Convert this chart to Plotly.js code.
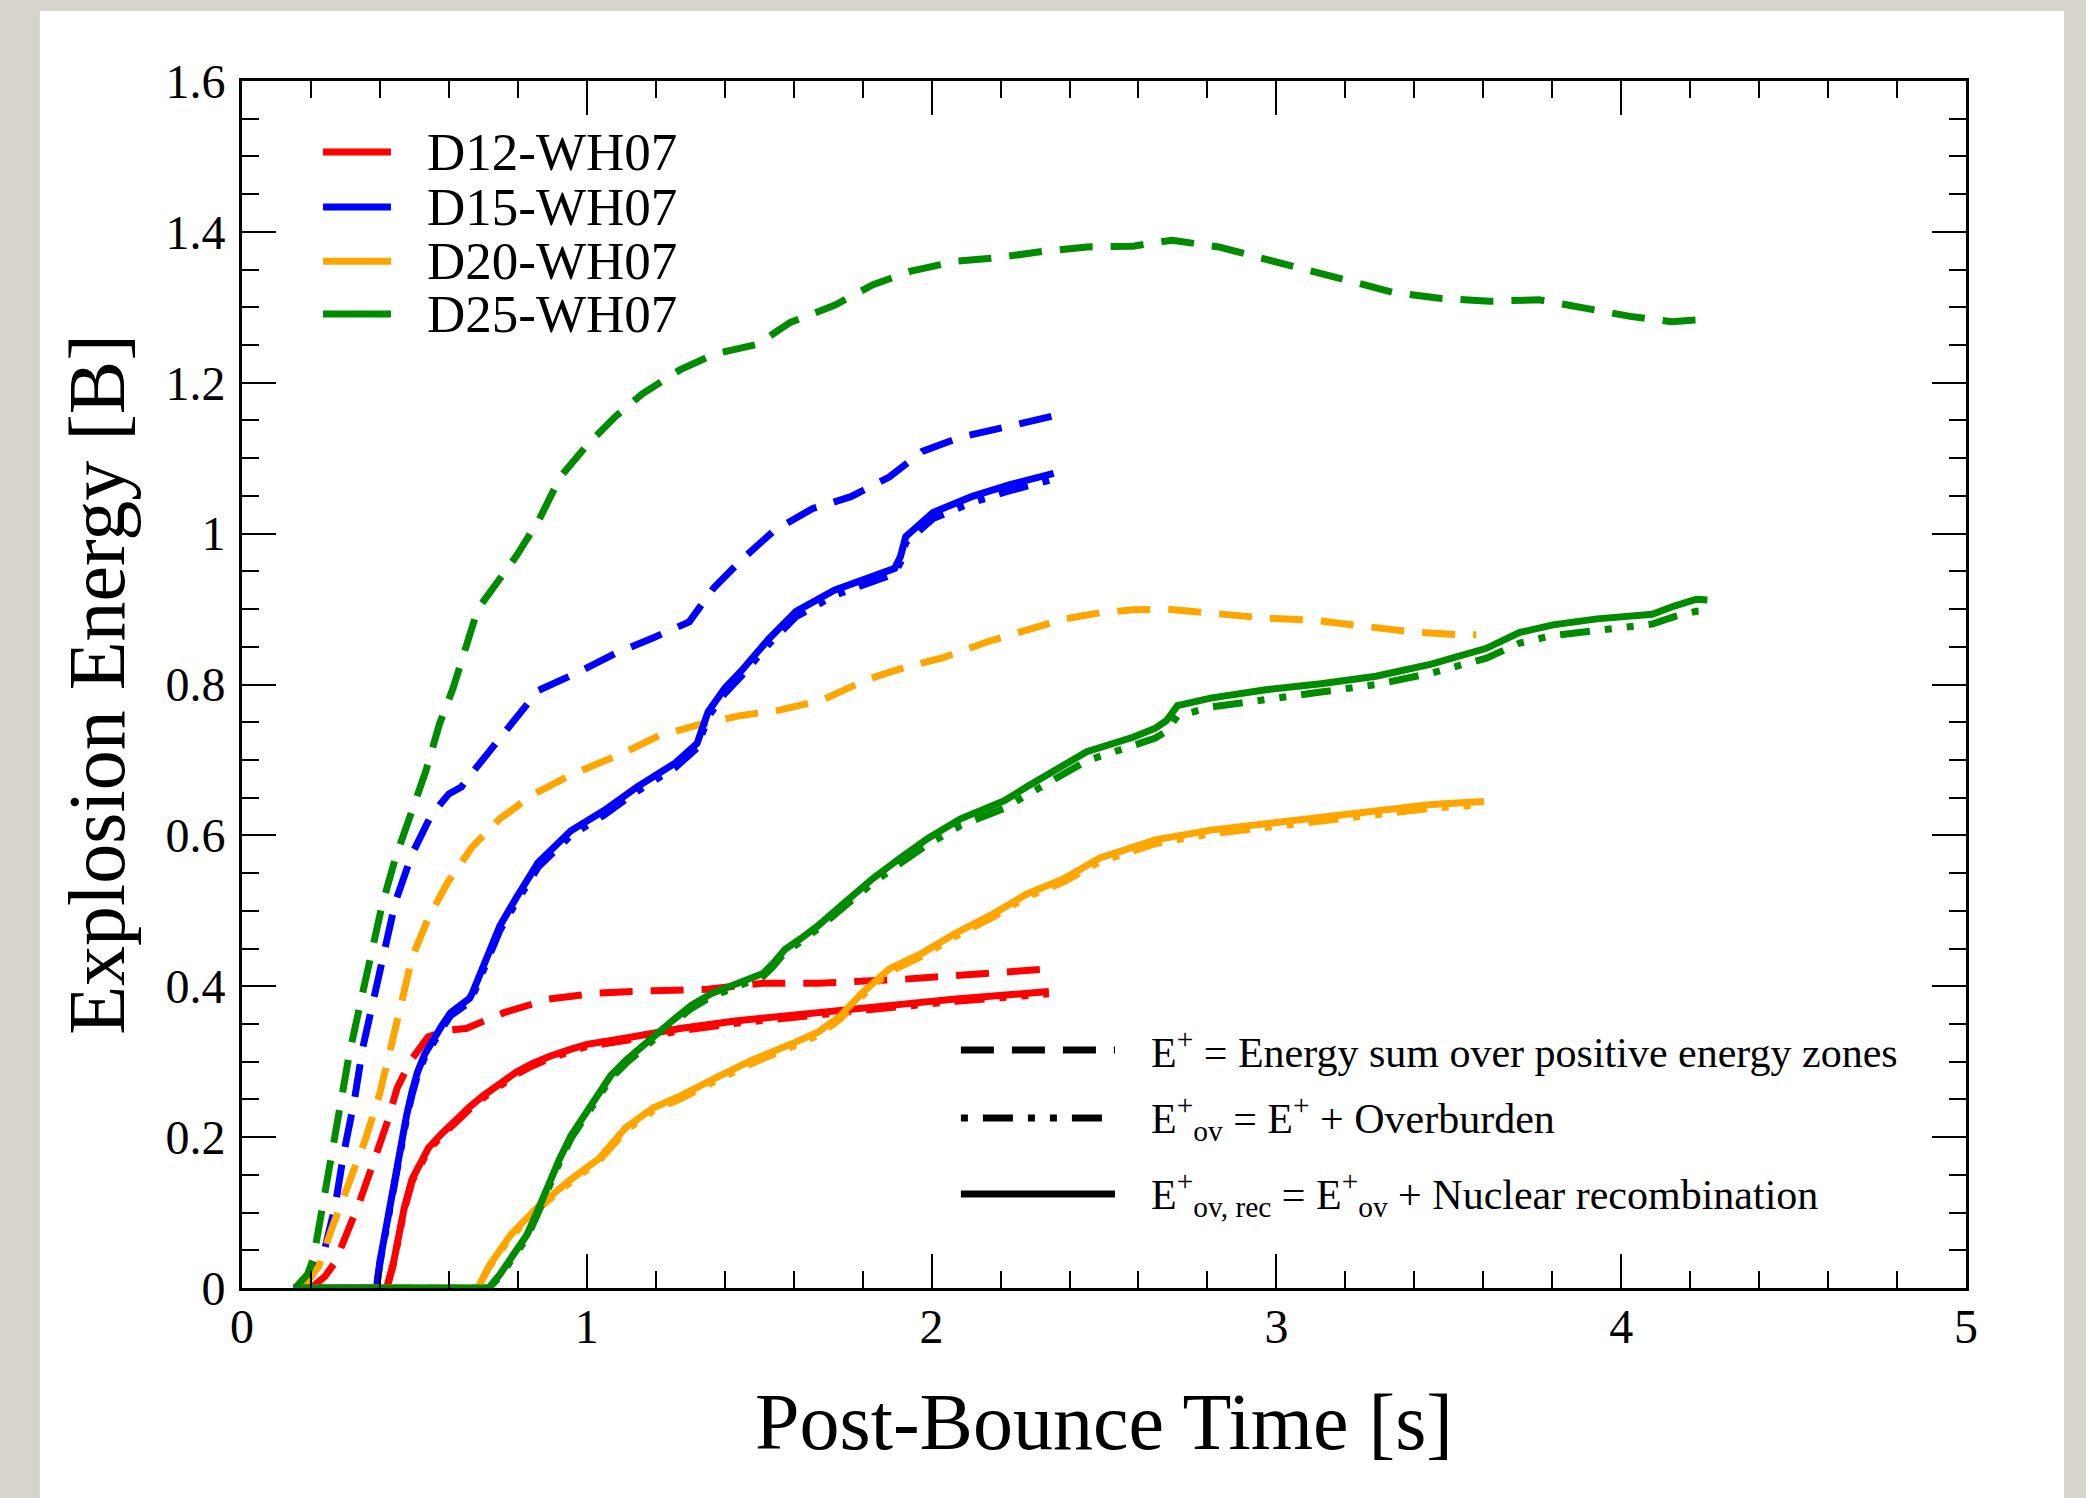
<!DOCTYPE html>
<html>
<head>
<meta charset="utf-8">
<script src="https://cdn.plot.ly/plotly-3.0.1.min.js"></script>
<style>html,body{margin:0;padding:0;background:#d7d4cd;}</style>
</head>
<body>
<div id="chart" style="width:2086px;height:1498px;"></div>
<script>
// ---------- data (time in s, energy in B) ----------
const models = ['D12-WH07', 'D15-WH07', 'D20-WH07', 'D25-WH07'];
const modelColors = ['#ff0000', '#0000ff', '#ffa500', '#008b00'];

// D12-WH07
const d12_t_ep = [0.2, 0.24, 0.27, 0.30, 0.34, 0.38, 0.42, 0.45, 0.49, 0.54, 0.6, 0.65, 0.76, 0.89, 1.03, 1.19, 1.35, 1.51, 1.67, 1.91, 2.07, 2.23, 2.34];
const d12_ep   = [0, 0.015, 0.034, 0.066, 0.113, 0.165, 0.218, 0.265, 0.302, 0.333, 0.342, 0.344, 0.365, 0.383, 0.391, 0.394, 0.396, 0.404, 0.404, 0.409, 0.415, 0.42, 0.423];
const d12_t_ov = [0.15, 0.42, 0.44, 0.453, 0.47, 0.493, 0.52, 0.541, 0.58, 0.62, 0.66, 0.7, 0.75, 0.795, 0.84, 0.891, 0.95, 1.0, 1.11, 1.27, 1.43, 1.59, 1.75, 1.91, 2.07, 2.23, 2.34];
const d12_ov   = [0, 0, 0.033, 0.069, 0.103, 0.141, 0.167, 0.183, 0.202, 0.220, 0.237, 0.252, 0.269, 0.283, 0.294, 0.304, 0.313, 0.320, 0.328, 0.341, 0.351, 0.359, 0.367, 0.373, 0.380, 0.387, 0.390];
const d12_t_rec = [0.15, 0.42, 0.44, 0.453, 0.47, 0.493, 0.52, 0.541, 0.58, 0.62, 0.66, 0.7, 0.75, 0.795, 0.84, 0.891, 0.95, 1.0, 1.11, 1.27, 1.43, 1.59, 1.75, 1.91, 2.07, 2.23, 2.34];
const d12_rec   = [0, 0, 0.035, 0.071, 0.105, 0.144, 0.17, 0.186, 0.205, 0.223, 0.24, 0.255, 0.272, 0.286, 0.297, 0.307, 0.316, 0.323, 0.331, 0.344, 0.354, 0.362, 0.37, 0.376, 0.383, 0.39, 0.393];

// D15-WH07
const d15_t_ep = [0.16, 0.2, 0.239, 0.27, 0.294, 0.326, 0.35, 0.382, 0.414, 0.445, 0.493, 0.549, 0.6, 0.636, 0.68, 0.716, 0.787, 0.859, 0.97, 1.082, 1.193, 1.297, 1.368, 1.448, 1.543, 1.654, 1.766, 1.877, 1.973, 2.084, 2.211, 2.354];
const d15_ep   = [0, 0.015, 0.05, 0.108, 0.176, 0.249, 0.318, 0.386, 0.449, 0.512, 0.575, 0.627, 0.655, 0.664, 0.69, 0.711, 0.753, 0.792, 0.815, 0.841, 0.862, 0.883, 0.928, 0.965, 1.004, 1.033, 1.049, 1.075, 1.109, 1.128, 1.141, 1.156];
const d15_t_ov = [0.15, 0.39, 0.40, 0.414, 0.43, 0.445, 0.46, 0.477, 0.493, 0.509, 0.53, 0.557, 0.58, 0.605, 0.64, 0.66, 0.668, 0.7, 0.748, 0.795, 0.859, 0.954, 1.05, 1.145, 1.257, 1.32, 1.352, 1.4, 1.448, 1.527, 1.607, 1.718, 1.83, 1.893, 1.91, 1.925, 2.004, 2.116, 2.227, 2.354];
const d15_ov   = [0, 0, 0.033, 0.068, 0.107, 0.147, 0.187, 0.224, 0.256, 0.282, 0.306, 0.329, 0.344, 0.361, 0.373, 0.379, 0.386, 0.422, 0.474, 0.511, 0.558, 0.600, 0.627, 0.658, 0.690, 0.716, 0.757, 0.788, 0.811, 0.853, 0.890, 0.918, 0.937, 0.947, 0.962, 0.988, 1.020, 1.041, 1.057, 1.072];
const d15_t_rec = [0.15, 0.39, 0.40, 0.414, 0.43, 0.445, 0.46, 0.477, 0.493, 0.509, 0.53, 0.557, 0.58, 0.605, 0.64, 0.66, 0.668, 0.7, 0.748, 0.795, 0.859, 0.954, 1.05, 1.145, 1.257, 1.32, 1.352, 1.4, 1.448, 1.527, 1.607, 1.718, 1.83, 1.893, 1.91, 1.925, 2.004, 2.116, 2.227, 2.354];
const d15_rec   = [0, 0, 0.035, 0.071, 0.11, 0.15, 0.19, 0.228, 0.26, 0.286, 0.31, 0.333, 0.348, 0.365, 0.378, 0.384, 0.391, 0.428, 0.48, 0.517, 0.564, 0.606, 0.633, 0.664, 0.696, 0.722, 0.764, 0.795, 0.818, 0.86, 0.897, 0.925, 0.944, 0.954, 0.97, 0.996, 1.028, 1.049, 1.065, 1.08];

// D20-WH07
const d20_t_ep = [0.175, 0.223, 0.262, 0.31, 0.358, 0.398, 0.43, 0.461, 0.493, 0.541, 0.597, 0.668, 0.748, 0.843, 0.954, 1.114, 1.209, 1.336, 1.448, 1.559, 1.686, 1.814, 1.925, 2.036, 2.164, 2.275, 2.386, 2.488, 2.584, 2.681, 2.825, 2.969, 3.113, 3.257, 3.385, 3.53, 3.58];
const d20_ep   = [0, 0.029, 0.081, 0.139, 0.197, 0.255, 0.312, 0.375, 0.438, 0.491, 0.538, 0.585, 0.622, 0.654, 0.68, 0.711, 0.732, 0.748, 0.759, 0.766, 0.78, 0.807, 0.823, 0.836, 0.857, 0.873, 0.887, 0.895, 0.899, 0.9, 0.893, 0.888, 0.885, 0.877, 0.87, 0.866, 0.866];
const d20_t_ov = [0.17, 0.684, 0.716, 0.78, 0.859, 0.954, 1.034, 1.114, 1.193, 1.273, 1.384, 1.479, 1.591, 1.67, 1.734, 1.798, 1.877, 1.973, 2.068, 2.179, 2.275, 2.386, 2.488, 2.649, 2.809, 2.969, 3.129, 3.289, 3.449, 3.602];
const d20_ov   = [0, 0, 0.027, 0.068, 0.105, 0.141, 0.168, 0.209, 0.235, 0.251, 0.277, 0.298, 0.319, 0.335, 0.356, 0.387, 0.419, 0.440, 0.466, 0.492, 0.518, 0.539, 0.565, 0.589, 0.602, 0.610, 0.620, 0.628, 0.636, 0.641];
const d20_t_rec = [0.17, 0.684, 0.716, 0.78, 0.859, 0.954, 1.034, 1.114, 1.193, 1.273, 1.384, 1.479, 1.591, 1.67, 1.734, 1.798, 1.877, 1.973, 2.068, 2.179, 2.275, 2.386, 2.488, 2.649, 2.809, 2.969, 3.129, 3.289, 3.449, 3.602];
const d20_rec   = [0, 0, 0.029, 0.071, 0.108, 0.144, 0.171, 0.213, 0.239, 0.255, 0.281, 0.302, 0.323, 0.339, 0.36, 0.391, 0.423, 0.444, 0.47, 0.496, 0.522, 0.543, 0.57, 0.594, 0.607, 0.615, 0.625, 0.633, 0.641, 0.645];

// D25-WH07
const d25_t_ep = [0.154, 0.19, 0.207, 0.231, 0.255, 0.286, 0.31, 0.342, 0.374, 0.406, 0.445, 0.493, 0.533, 0.573, 0.612, 0.684, 0.795, 0.86, 0.923, 1.0, 1.08, 1.16, 1.27, 1.37, 1.495, 1.59, 1.72, 1.83, 1.94, 2.07, 2.195, 2.32, 2.45, 2.584, 2.697, 2.833, 2.961, 3.089, 3.209, 3.337, 3.473, 3.617, 3.762, 3.89, 4.026, 4.146, 4.246];
const d25_ep   = [0, 0.018, 0.039, 0.102, 0.165, 0.239, 0.307, 0.375, 0.444, 0.507, 0.570, 0.633, 0.685, 0.748, 0.795, 0.90, 0.97, 1.017, 1.075, 1.117, 1.154, 1.185, 1.217, 1.238, 1.251, 1.28, 1.303, 1.33, 1.348, 1.361, 1.366, 1.374, 1.38, 1.381, 1.389, 1.38, 1.365, 1.349, 1.335, 1.32, 1.312, 1.308, 1.31, 1.3, 1.288, 1.281, 1.284];
const d25_t_ov = [0.15, 0.716, 0.748, 0.79, 0.827, 0.86, 0.891, 0.92, 0.954, 1.0, 1.034, 1.07, 1.114, 1.16, 1.209, 1.25, 1.304, 1.36, 1.432, 1.511, 1.54, 1.575, 1.62, 1.67, 1.75, 1.83, 1.909, 1.989, 2.084, 2.211, 2.275, 2.354, 2.45, 2.584, 2.649, 2.681, 2.713, 2.809, 2.969, 3.129, 3.289, 3.449, 3.609, 3.706, 3.802, 3.93, 4.09, 4.154, 4.218, 4.25];
const d25_ov   = [0, 0, 0.015, 0.041, 0.067, 0.101, 0.135, 0.166, 0.198, 0.231, 0.256, 0.278, 0.298, 0.317, 0.335, 0.351, 0.371, 0.386, 0.398, 0.413, 0.426, 0.445, 0.459, 0.476, 0.507, 0.537, 0.563, 0.588, 0.613, 0.636, 0.653, 0.674, 0.699, 0.719, 0.729, 0.738, 0.758, 0.770, 0.781, 0.790, 0.800, 0.815, 0.835, 0.855, 0.865, 0.872, 0.880, 0.890, 0.897, 0.898];
const d25_t_rec = [0.15, 0.716, 0.748, 0.79, 0.827, 0.86, 0.891, 0.92, 0.954, 1.0, 1.034, 1.07, 1.114, 1.16, 1.209, 1.25, 1.304, 1.36, 1.432, 1.511, 1.54, 1.575, 1.62, 1.67, 1.75, 1.83, 1.909, 1.989, 2.084, 2.211, 2.275, 2.354, 2.45, 2.584, 2.649, 2.681, 2.713, 2.809, 2.969, 3.129, 3.289, 3.449, 3.609, 3.706, 3.802, 3.93, 4.09, 4.154, 4.218, 4.25];
const d25_rec   = [0, 0, 0.018, 0.045, 0.071, 0.105, 0.139, 0.17, 0.202, 0.235, 0.26, 0.282, 0.302, 0.321, 0.339, 0.355, 0.375, 0.39, 0.402, 0.417, 0.43, 0.449, 0.463, 0.480, 0.512, 0.543, 0.570, 0.596, 0.622, 0.646, 0.664, 0.685, 0.711, 0.730, 0.742, 0.752, 0.772, 0.782, 0.793, 0.801, 0.811, 0.827, 0.848, 0.869, 0.879, 0.887, 0.893, 0.904, 0.913, 0.912];

const kindLabels = [
  'E<sup>+</sup> = Energy sum over positive energy zones',
  'E<sup>+</sup><sub>ov</sub> = E<sup>+</sup> + Overburden',
  'E<sup>+</sup><sub>ov, rec</sub> = E<sup>+</sup><sub>ov</sub> + Nuclear recombination'
];

// ---------- styles ----------
const DASH = '33px,18px';
const DASHDOTDOT = '30px,15px,7px,15px,7px,15px';
const LW = 7;
const FONT = 'Liberation Serif, Times New Roman, serif';

const series = [
  {name: models[0], c: modelColors[0], ep: [d12_t_ep, d12_ep], ov: [d12_t_ov, d12_ov], rec: [d12_t_rec, d12_rec]},
  {name: models[1], c: modelColors[1], ep: [d15_t_ep, d15_ep], ov: [d15_t_ov, d15_ov], rec: [d15_t_rec, d15_rec]},
  {name: models[2], c: modelColors[2], ep: [d20_t_ep, d20_ep], ov: [d20_t_ov, d20_ov], rec: [d20_t_rec, d20_rec]},
  {name: models[3], c: modelColors[3], ep: [d25_t_ep, d25_ep], ov: [d25_t_ov, d25_ov], rec: [d25_t_rec, d25_rec]}
];

const traces = [];
series.forEach(s => {
  traces.push({x: s.ep[0], y: s.ep[1], mode: 'lines', name: s.name + ' E+', line: {color: s.c, width: LW, dash: DASH}, hoverinfo: 'skip'});
  traces.push({x: s.ov[0], y: s.ov[1], mode: 'lines', name: s.name + ' E+ov', line: {color: s.c, width: LW, dash: DASHDOTDOT}, hoverinfo: 'skip'});
});
series.forEach(s => {
  traces.push({x: s.rec[0], y: s.rec[1], mode: 'lines', name: s.name + ' E+ov,rec', line: {color: s.c, width: LW}, hoverinfo: 'skip'});
});

// ---------- legend (drawn as shapes + text) ----------
const shapes = [
  // white page panel
  {type: 'rect', xref: 'paper', yref: 'paper', x0: -0.1172, x1: 1.0568, y0: -0.25, y1: 1.058,
   fillcolor: '#ffffff', line: {width: 0}, layer: 'below'}
];
const annotations = [];
const legY = [1.506, 1.433, 1.361, 1.291];
models.forEach((m, i) => {
  shapes.push({type: 'line', xref: 'x', yref: 'y', x0: 0.235, x1: 0.432, y0: legY[i], y1: legY[i],
               line: {color: modelColors[i], width: 7}});
  annotations.push({xref: 'x', yref: 'y', x: 0.53, y: legY[i], text: m, showarrow: false,
                    xanchor: 'left', yanchor: 'middle', font: {family: FONT, size: 53, color: 'black'}});
});
const kindY = [0.3155, 0.2253, 0.1246];
const kindDash = ['33px,18px', '7px,15px,30px,15px,7px,15px', 'solid'];
kindLabels.forEach((t, i) => {
  shapes.push({type: 'line', xref: 'x', yref: 'y', x0: 2.085, x1: 2.532, y0: kindY[i], y1: kindY[i],
               line: {color: 'black', width: 7, dash: kindDash[i]}});
  annotations.push({xref: 'x', yref: 'y', x: 2.63, y: kindY[i], text: t, showarrow: false,
                    xanchor: 'left', yanchor: 'middle', font: {family: FONT, size: 42, color: 'black'}});
});

const axisCommon = {
  ticks: 'inside', ticklen: 34, tickwidth: 2, tickcolor: 'black',
  showline: true, linewidth: 3, linecolor: 'black', mirror: 'ticks',
  showgrid: false, zeroline: false, automargin: false,
  tickfont: {family: FONT, size: 48, color: 'black'}
};

const layout = {
  width: 2086, height: 1498,
  paper_bgcolor: '#d7d4cd',
  plot_bgcolor: '#ffffff',
  margin: {l: 242, r: 120, t: 81, b: 210, pad: 0},
  showlegend: false,
  font: {family: FONT, color: 'black'},
  xaxis: Object.assign({}, axisCommon, {
    range: [0, 5], tick0: 0, dtick: 1, ticklabelstandoff: -6,
    minor: {dtick: 0.2, ticks: 'inside', ticklen: 17, tickwidth: 2, tickcolor: 'black', showgrid: false},
    title: {text: 'Post-Bounce Time [s]', font: {family: FONT, size: 80, color: 'black'}, standoff: 42}
  }),
  yaxis: Object.assign({}, axisCommon, {
    range: [0, 1.6], tick0: 0, dtick: 0.2, ticklabelstandoff: 4,
    minor: {dtick: 0.05, ticks: 'inside', ticklen: 17, tickwidth: 2, tickcolor: 'black', showgrid: false},
    title: {text: 'Explosion Energy [B]', font: {family: FONT, size: 80, color: 'black'}, standoff: 15}
  }),
  shapes: shapes,
  annotations: annotations
};

Plotly.newPlot('chart', traces, layout, {displayModeBar: false, staticPlot: true});
</script>
</body>
</html>
